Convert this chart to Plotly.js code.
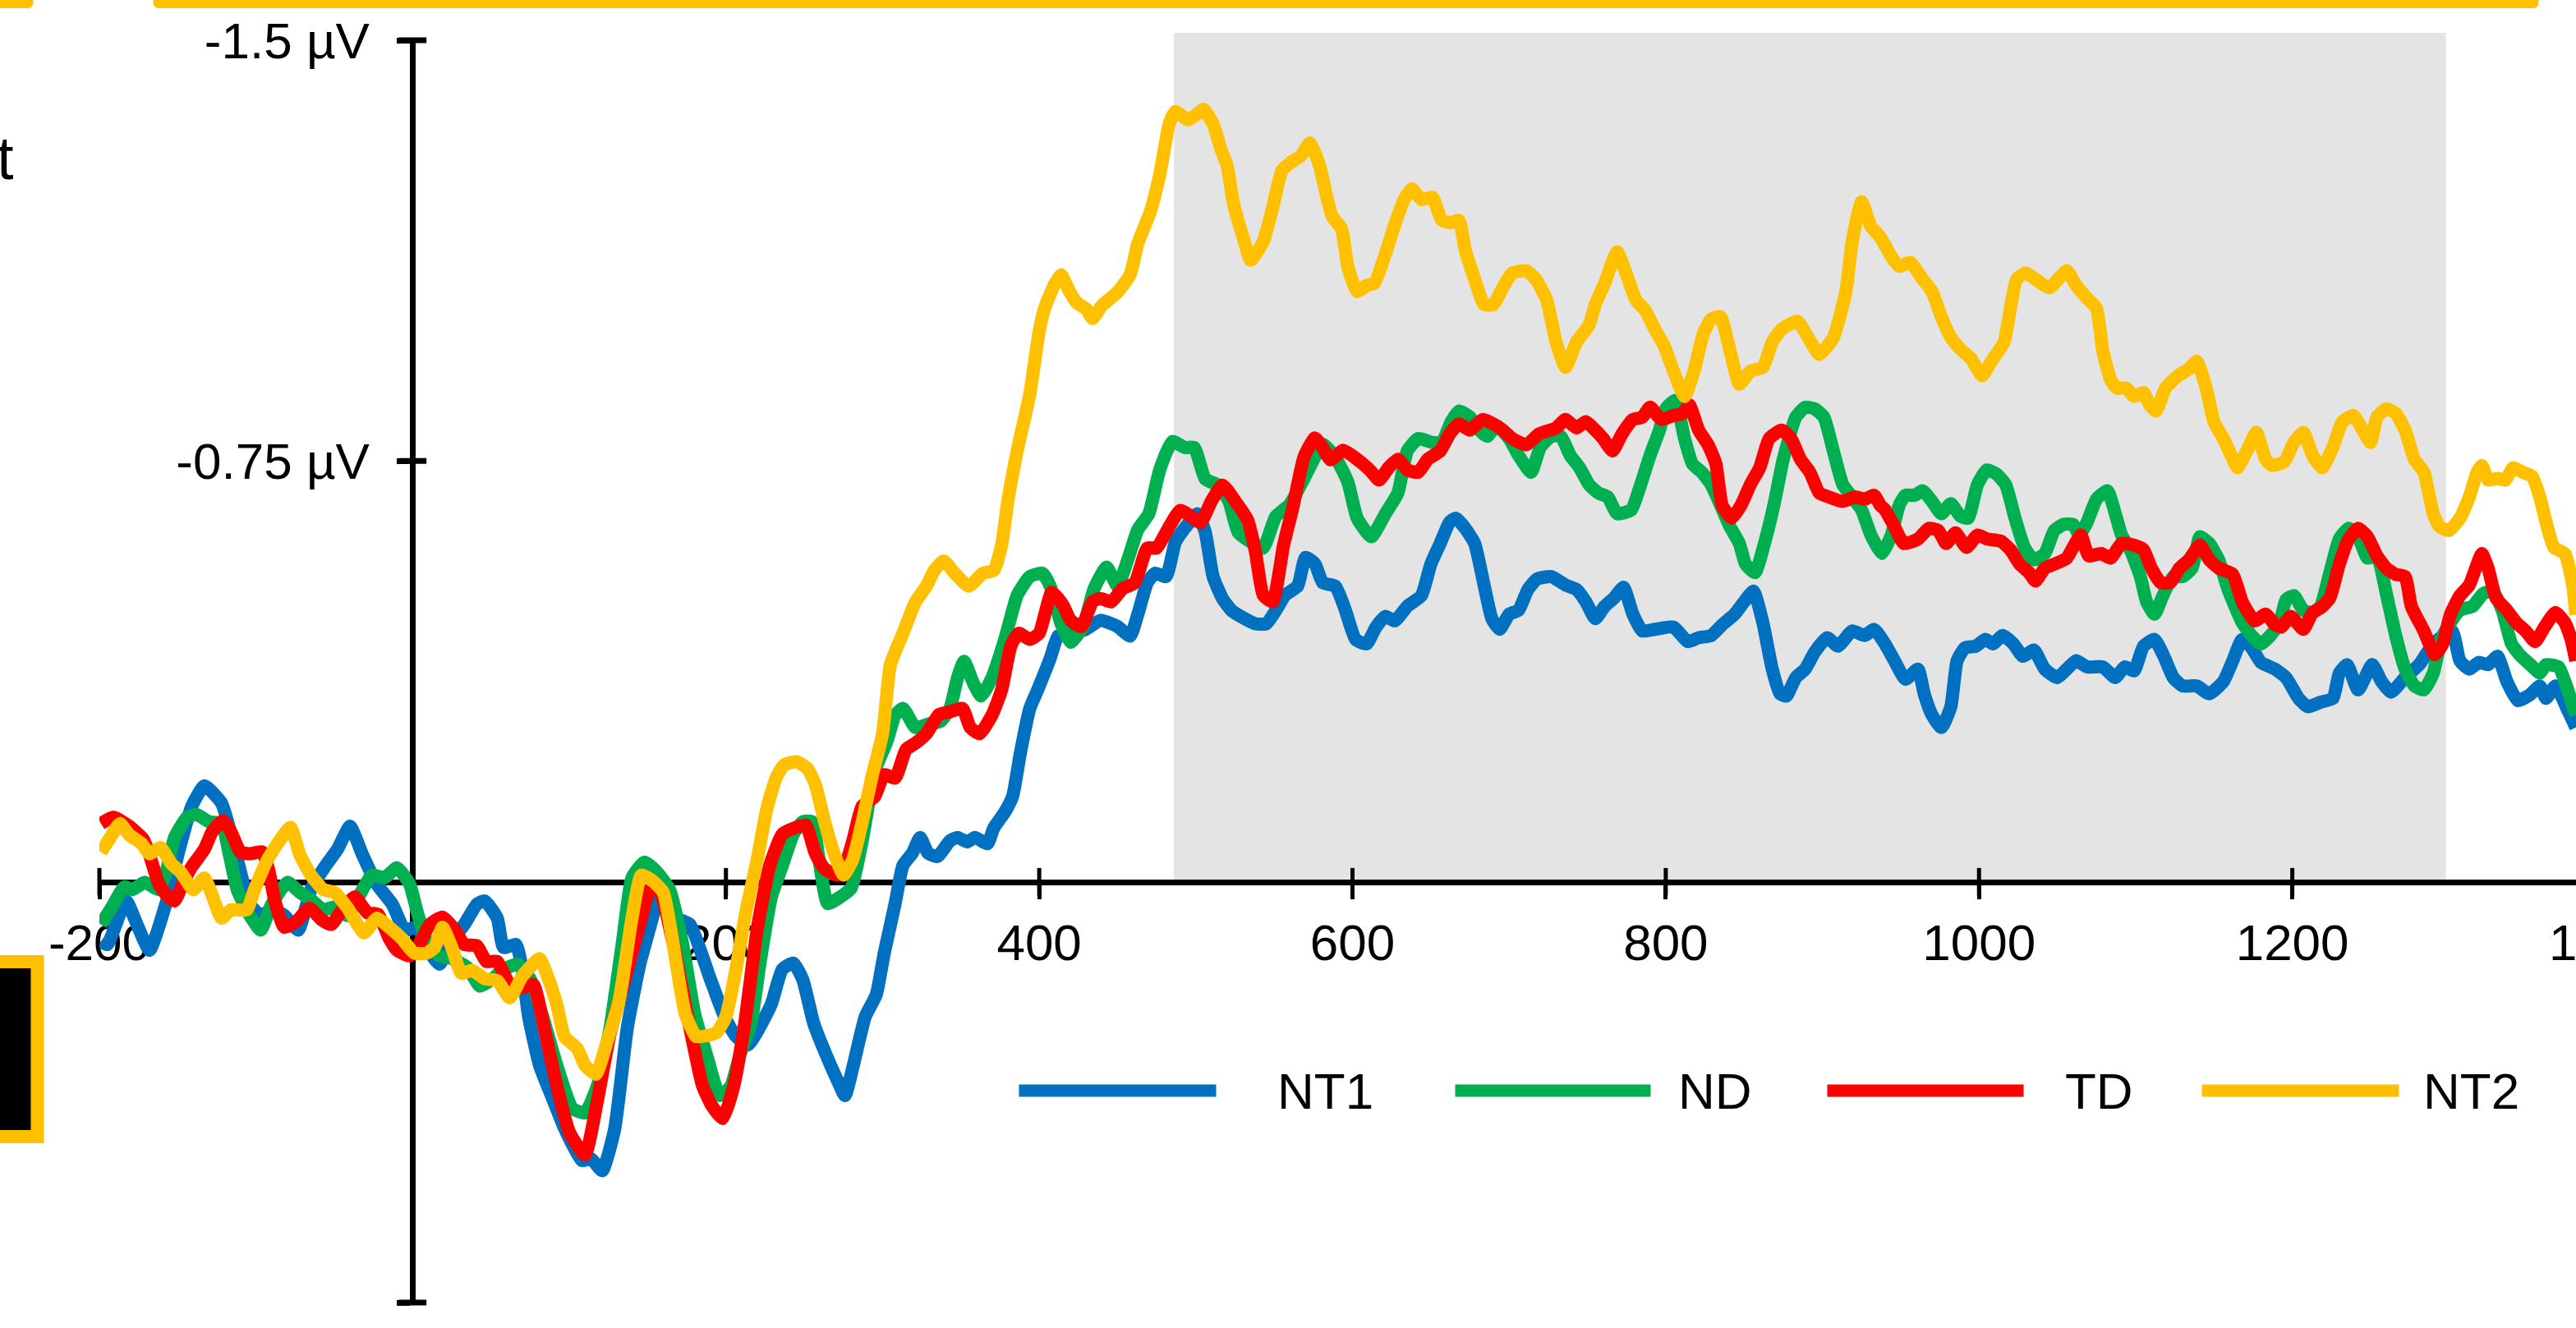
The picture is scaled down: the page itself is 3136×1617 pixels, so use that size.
<!DOCTYPE html>
<html>
<head>
<meta charset="utf-8">
<script src="https://cdn.plot.ly/plotly-3.0.1.min.js"></script>
<style>
html,body{margin:0;padding:0;overflow:hidden;background:#ffffff;}
#chart{width:3300px;height:1617px;}
</style>
</head>
<body>
<div id="chart"></div>
<script>
// ---------------- data ----------------
const seriesNames = ['NT1', 'ND', 'TD', 'NT2'];
const seriesColors = ['#0070C0', '#00B050', '#FF0000', '#FFC000'];

// [time (ms), amplitude (µV)]
const nt1 = [[-199,0.106],[-195,0.112],[-183,0.034],[-176,0.076],[-168,0.122],[-157,0.034],[-149,-0.058],[-141,-0.135],[-133,-0.171],[-122,-0.140],[-114,-0.063],[-109,-0.007],[-104,0.040],[-97,0.060],[-90,0.050],[-82,0.060],[-73,0.086],[-65,0.014],[-56,-0.027],[-48,-0.058],[-40,-0.099],[-32,-0.048],[-23,0.004],[-13,0.040],[-5,0.086],[3,0.081],[9,0.117],[17,0.147],[25,0.106],[33,0.076],[41,0.040],[46,0.034],[54,0.065],[58,0.117],[66,0.112],[70,0.158],[74,0.240],[81,0.327],[89,0.384],[97,0.440],[108,0.497],[114,0.494],[121,0.515],[129,0.440],[137,0.261],[145,0.147],[153,0.065],[158,0.014],[169,0.065],[177,0.076],[190,0.173],[199,0.240],[206,0.274],[214,0.291],[222,0.257],[229,0.218],[236,0.156],[243,0.145],[249,0.174],[256,0.252],[263,0.302],[271,0.353],[276,0.381],[281,0.331],[289,0.240],[296,0.201],[301,0.128],[308,0.039],[313,-0.029],[319,-0.051],[324,-0.079],[329,-0.051],[335,-0.045],[343,-0.073],[348,-0.079],[354,-0.071],[359,-0.079],[367,-0.068],[371,-0.096],[378,-0.124],[383,-0.152],[388,-0.230],[394,-0.309],[399,-0.342],[407,-0.398],[412,-0.438],[418,-0.443],[429,-0.449],[439,-0.466],[450,-0.455],[458,-0.438],[463,-0.477],[469,-0.533],[474,-0.550],[481,-0.544],[487,-0.606],[494,-0.634],[501,-0.656],[506,-0.623],[511,-0.544],[517,-0.505],[523,-0.483],[530,-0.471],[538,-0.460],[545,-0.460],[552,-0.488],[557,-0.511],[565,-0.527],[570,-0.578],[576,-0.567],[581,-0.533],[589,-0.527],[595,-0.488],[602,-0.432],[609,-0.424],[615,-0.454],[621,-0.473],[627,-0.465],[635,-0.491],[644,-0.510],[650,-0.566],[656,-0.603],[662,-0.641],[666,-0.648],[672,-0.630],[678,-0.603],[684,-0.529],[689,-0.469],[694,-0.450],[700,-0.477],[706,-0.484],[712,-0.521],[718,-0.540],[727,-0.544],[736,-0.529],[743,-0.521],[749,-0.499],[755,-0.469],[761,-0.491],[767,-0.506],[773,-0.525],[779,-0.477],[785,-0.447],[793,-0.450],[805,-0.454],[814,-0.428],[821,-0.435],[829,-0.439],[836,-0.458],[844,-0.477],[850,-0.499],[856,-0.518],[862,-0.462],[868,-0.379],[873,-0.335],[877,-0.331],[883,-0.364],[889,-0.379],[895,-0.409],[903,-0.435],[910,-0.420],[919,-0.447],[927,-0.439],[933,-0.450],[940,-0.424],[946,-0.394],[953,-0.361],[961,-0.379],[965,-0.335],[970,-0.297],[976,-0.275],[982,-0.312],[986,-0.394],[991,-0.417],[998,-0.420],[1004,-0.432],[1009,-0.424],[1015,-0.439],[1022,-0.424],[1028,-0.402],[1035,-0.413],[1042,-0.379],[1050,-0.364],[1056,-0.379],[1062,-0.394],[1069,-0.383],[1079,-0.383],[1087,-0.364],[1093,-0.383],[1099,-0.376],[1105,-0.420],[1112,-0.432],[1118,-0.402],[1124,-0.364],[1130,-0.349],[1139,-0.349],[1147,-0.335],[1156,-0.357],[1162,-0.394],[1168,-0.432],[1174,-0.417],[1180,-0.391],[1189,-0.379],[1196,-0.364],[1204,-0.327],[1210,-0.312],[1218,-0.320],[1226,-0.327],[1230,-0.372],[1235,-0.387],[1242,-0.342],[1251,-0.387],[1257,-0.357],[1263,-0.338],[1272,-0.364],[1281,-0.387],[1290,-0.424],[1302,-0.447],[1307,-0.394],[1313,-0.379],[1319,-0.391],[1325,-0.387],[1331,-0.402],[1337,-0.357],[1344,-0.323],[1352,-0.334],[1358,-0.349],[1362,-0.327],[1368,-0.349],[1376,-0.305],[1381,-0.275]];

const nd = [[-199,0.076],[-192,0.045],[-184,0.009],[-179,0.014],[-171,0.001],[-162,0.014],[-157,-0.022],[-152,-0.079],[-144,-0.115],[-138,-0.120],[-130,-0.107],[-122,-0.104],[-117,-0.048],[-112,0.014],[-104,0.060],[-97,0.086],[-90,0.040],[-80,0.001],[-72,0.019],[-64,0.034],[-57,0.050],[-50,0.045],[-42,0.060],[-34,0.024],[-26,-0.012],[-18,-0.007],[-10,-0.025],[-2,0.004],[3,0.055],[9,0.106],[17,0.132],[25,0.137],[35,0.153],[43,0.186],[51,0.173],[57,0.158],[67,0.147],[75,0.173],[83,0.240],[92,0.327],[102,0.404],[110,0.412],[118,0.363],[126,0.261],[134,0.106],[140,-0.007],[148,-0.035],[156,-0.017],[164,0.014],[172,0.106],[180,0.235],[188,0.312],[196,0.381],[203,0.365],[209,0.308],[216,0.252],[222,0.140],[229,0.027],[236,-0.029],[243,-0.085],[249,-0.107],[255,-0.107],[260,-0.029],[265,0.039],[273,0.027],[280,0.011],[287,-0.073],[295,-0.197],[303,-0.252],[308,-0.297],[313,-0.309],[321,-0.275],[329,-0.281],[337,-0.286],[343,-0.309],[348,-0.365],[352,-0.393],[358,-0.354],[363,-0.331],[370,-0.365],[378,-0.432],[386,-0.511],[394,-0.544],[402,-0.550],[407,-0.527],[414,-0.460],[420,-0.427],[428,-0.455],[435,-0.522],[443,-0.561],[450,-0.527],[457,-0.578],[463,-0.628],[470,-0.656],[477,-0.735],[485,-0.785],[493,-0.774],[499,-0.774],[506,-0.718],[514,-0.707],[521,-0.679],[527,-0.623],[535,-0.606],[543,-0.595],[551,-0.651],[560,-0.673],[568,-0.713],[576,-0.757],[581,-0.780],[589,-0.757],[597,-0.713],[603,-0.648],[612,-0.615],[621,-0.656],[629,-0.693],[635,-0.768],[642,-0.790],[651,-0.783],[657,-0.783],[663,-0.820],[668,-0.839],[675,-0.828],[681,-0.805],[686,-0.794],[692,-0.813],[700,-0.790],[706,-0.760],[714,-0.730],[720,-0.775],[727,-0.794],[733,-0.794],[739,-0.760],[745,-0.738],[751,-0.708],[757,-0.693],[763,-0.686],[769,-0.656],[778,-0.663],[784,-0.708],[790,-0.760],[796,-0.805],[800,-0.843],[806,-0.858],[812,-0.790],[817,-0.745],[823,-0.730],[829,-0.708],[835,-0.671],[841,-0.633],[847,-0.603],[851,-0.566],[857,-0.551],[863,-0.603],[869,-0.671],[875,-0.753],[883,-0.828],[889,-0.846],[895,-0.843],[901,-0.828],[907,-0.768],[913,-0.708],[919,-0.686],[925,-0.663],[931,-0.618],[938,-0.585],[944,-0.618],[949,-0.671],[953,-0.689],[959,-0.689],[964,-0.697],[970,-0.678],[976,-0.656],[982,-0.674],[988,-0.652],[993,-0.648],[999,-0.708],[1005,-0.734],[1011,-0.727],[1017,-0.708],[1023,-0.648],[1029,-0.596],[1035,-0.574],[1042,-0.585],[1048,-0.626],[1054,-0.637],[1060,-0.637],[1064,-0.618],[1069,-0.641],[1075,-0.682],[1082,-0.697],[1087,-0.656],[1091,-0.618],[1097,-0.589],[1103,-0.544],[1107,-0.499],[1112,-0.477],[1118,-0.514],[1124,-0.544],[1130,-0.544],[1136,-0.559],[1141,-0.615],[1147,-0.603],[1153,-0.574],[1159,-0.521],[1168,-0.462],[1174,-0.439],[1180,-0.424],[1186,-0.439],[1192,-0.462],[1196,-0.503],[1201,-0.510],[1207,-0.484],[1213,-0.480],[1218,-0.491],[1224,-0.551],[1230,-0.611],[1236,-0.630],[1242,-0.615],[1248,-0.577],[1254,-0.581],[1260,-0.514],[1266,-0.439],[1272,-0.379],[1278,-0.349],[1284,-0.342],[1290,-0.372],[1295,-0.432],[1301,-0.462],[1307,-0.484],[1315,-0.491],[1322,-0.514],[1328,-0.518],[1334,-0.484],[1340,-0.424],[1346,-0.402],[1352,-0.387],[1358,-0.372],[1362,-0.387],[1370,-0.383],[1375,-0.349],[1381,-0.297]];

const td = [[-199,-0.104],[-191,-0.115],[-181,-0.099],[-172,-0.076],[-168,-0.048],[-162,0.004],[-157,0.024],[-152,0.034],[-146,-0.002],[-141,-0.027],[-133,-0.058],[-128,-0.089],[-121,-0.109],[-116,-0.089],[-110,-0.053],[-104,-0.050],[-96,-0.053],[-92,-0.022],[-88,0.034],[-82,0.081],[-74,0.070],[-66,0.047],[-58,0.068],[-52,0.076],[-45,0.050],[-37,0.027],[-29,0.055],[-22,0.058],[-15,0.101],[-10,0.122],[-2,0.132],[3,0.117],[11,0.076],[19,0.063],[27,0.086],[33,0.112],[41,0.114],[47,0.142],[54,0.142],[62,0.183],[70,0.189],[77,0.183],[84,0.261],[92,0.363],[100,0.446],[110,0.487],[118,0.389],[126,0.271],[137,0.158],[145,0.076],[152,0.009],[158,0.019],[166,0.106],[177,0.261],[185,0.363],[191,0.399],[198,0.422],[205,0.364],[212,0.252],[220,0.084],[228,-0.029],[236,-0.085],[244,-0.096],[251,-0.101],[257,-0.051],[263,-0.023],[271,-0.012],[276,-0.029],[281,-0.073],[287,-0.135],[295,-0.152],[301,-0.191],[308,-0.185],[315,-0.236],[321,-0.247],[328,-0.264],[336,-0.298],[343,-0.303],[351,-0.309],[356,-0.275],[362,-0.264],[370,-0.298],[376,-0.342],[382,-0.421],[387,-0.443],[394,-0.432],[400,-0.443],[408,-0.516],[415,-0.494],[420,-0.466],[427,-0.455],[434,-0.499],[439,-0.505],[446,-0.499],[453,-0.522],[461,-0.533],[469,-0.595],[475,-0.595],[482,-0.628],[490,-0.662],[497,-0.651],[503,-0.640],[510,-0.679],[517,-0.707],[525,-0.679],[533,-0.645],[538,-0.589],[543,-0.511],[549,-0.499],[556,-0.600],[562,-0.668],[569,-0.757],[576,-0.791],[581,-0.774],[586,-0.752],[594,-0.769],[603,-0.753],[611,-0.734],[617,-0.716],[623,-0.738],[629,-0.753],[635,-0.734],[642,-0.730],[648,-0.753],[656,-0.768],[662,-0.798],[668,-0.816],[675,-0.805],[683,-0.824],[690,-0.816],[696,-0.805],[702,-0.790],[711,-0.779],[719,-0.798],[730,-0.809],[736,-0.824],[743,-0.809],[749,-0.820],[755,-0.805],[760,-0.790],[766,-0.768],[772,-0.798],[779,-0.824],[785,-0.828],[790,-0.846],[797,-0.824],[805,-0.831],[811,-0.835],[815,-0.850],[821,-0.805],[827,-0.779],[832,-0.745],[836,-0.671],[842,-0.648],[848,-0.671],[854,-0.708],[860,-0.738],[866,-0.790],[874,-0.805],[880,-0.790],[886,-0.753],[892,-0.730],[898,-0.693],[904,-0.686],[913,-0.678],[921,-0.686],[927,-0.682],[933,-0.689],[937,-0.671],[940,-0.663],[946,-0.633],[952,-0.603],[961,-0.611],[968,-0.630],[974,-0.626],[979,-0.603],[985,-0.622],[992,-0.596],[999,-0.618],[1005,-0.611],[1014,-0.607],[1020,-0.592],[1026,-0.566],[1032,-0.551],[1036,-0.536],[1042,-0.559],[1048,-0.566],[1056,-0.577],[1060,-0.596],[1065,-0.618],[1070,-0.581],[1078,-0.585],[1084,-0.577],[1091,-0.603],[1099,-0.600],[1105,-0.592],[1110,-0.559],[1116,-0.533],[1122,-0.533],[1128,-0.559],[1134,-0.574],[1141,-0.600],[1147,-0.574],[1153,-0.559],[1162,-0.548],[1168,-0.499],[1176,-0.465],[1183,-0.477],[1189,-0.458],[1193,-0.454],[1199,-0.473],[1207,-0.450],[1213,-0.480],[1218,-0.488],[1224,-0.506],[1230,-0.566],[1236,-0.611],[1242,-0.630],[1248,-0.615],[1254,-0.581],[1260,-0.559],[1266,-0.548],[1272,-0.544],[1276,-0.491],[1284,-0.447],[1291,-0.405],[1296,-0.424],[1301,-0.477],[1307,-0.510],[1313,-0.529],[1318,-0.566],[1321,-0.585],[1325,-0.559],[1330,-0.506],[1337,-0.484],[1343,-0.462],[1349,-0.447],[1355,-0.428],[1361,-0.454],[1368,-0.480],[1374,-0.462],[1378,-0.432],[1381,-0.394]];

const nt2 = [[-199,-0.053],[-193,-0.079],[-187,-0.104],[-181,-0.084],[-173,-0.068],[-168,-0.050],[-161,-0.061],[-154,-0.032],[-148,-0.017],[-140,0.014],[-133,-0.007],[-128,0.024],[-122,0.065],[-116,0.050],[-106,0.050],[-101,0.014],[-93,-0.038],[-85,-0.073],[-78,-0.097],[-72,-0.048],[-65,-0.012],[-57,0.014],[-50,0.019],[-42,0.045],[-31,0.091],[-23,0.065],[-15,0.081],[-7,0.101],[1,0.127],[9,0.127],[14,0.117],[19,0.081],[25,0.117],[31,0.163],[38,0.158],[46,0.173],[54,0.176],[62,0.207],[70,0.168],[81,0.137],[86,0.168],[92,0.219],[97,0.276],[105,0.297],[110,0.327],[117,0.343],[124,0.286],[132,0.209],[140,0.065],[146,-0.012],[153,-0.002],[160,0.019],[166,0.106],[174,0.235],[181,0.276],[188,0.274],[194,0.269],[200,0.240],[206,0.162],[213,0.050],[220,-0.040],[226,-0.129],[232,-0.185],[237,-0.208],[245,-0.214],[252,-0.202],[257,-0.174],[263,-0.107],[269,-0.051],[275,-0.012],[281,-0.040],[287,-0.107],[293,-0.185],[300,-0.264],[305,-0.387],[313,-0.443],[321,-0.499],[328,-0.527],[333,-0.555],[339,-0.572],[346,-0.550],[355,-0.527],[364,-0.550],[371,-0.555],[376,-0.600],[380,-0.679],[386,-0.769],[394,-0.869],[400,-0.982],[404,-1.027],[410,-1.066],[414,-1.082],[419,-1.054],[424,-1.032],[430,-1.021],[434,-1.004],[440,-1.027],[450,-1.051],[458,-1.082],[463,-1.138],[471,-1.195],[477,-1.261],[483,-1.351],[487,-1.373],[495,-1.358],[501,-1.369],[505,-1.377],[511,-1.351],[516,-1.306],[520,-1.276],[524,-1.209],[531,-1.141],[535,-1.108],[543,-1.141],[549,-1.201],[555,-1.268],[561,-1.283],[567,-1.294],[573,-1.317],[579,-1.276],[584,-1.216],[587,-1.186],[593,-1.164],[597,-1.097],[603,-1.052],[609,-1.063],[614,-1.067],[621,-1.119],[627,-1.171],[633,-1.216],[638,-1.235],[644,-1.216],[651,-1.220],[657,-1.179],[663,-1.175],[668,-1.179],[672,-1.126],[678,-1.074],[684,-1.029],[690,-1.029],[696,-1.059],[702,-1.085],[711,-1.089],[717,-1.074],[724,-1.037],[730,-0.962],[736,-0.917],[743,-0.962],[751,-0.992],[755,-1.029],[761,-1.067],[769,-1.123],[775,-1.082],[781,-1.037],[787,-1.018],[793,-0.985],[799,-0.955],[805,-0.910],[812,-0.865],[818,-0.910],[824,-0.977],[829,-1.003],[835,-1.007],[841,-0.947],[847,-0.887],[854,-0.910],[862,-0.917],[868,-0.962],[874,-0.985],[884,-0.999],[891,-0.970],[898,-0.940],[907,-0.970],[915,-1.052],[919,-1.141],[925,-1.212],[931,-1.168],[937,-1.149],[943,-1.119],[949,-1.097],[956,-1.104],[964,-1.074],[970,-1.052],[976,-1.007],[982,-0.970],[989,-0.947],[995,-0.932],[1002,-0.902],[1008,-0.928],[1016,-0.962],[1020,-1.022],[1024,-1.074],[1030,-1.085],[1036,-1.074],[1045,-1.059],[1056,-1.089],[1062,-1.063],[1069,-1.040],[1075,-1.022],[1079,-0.947],[1084,-0.895],[1088,-0.880],[1094,-0.880],[1099,-0.865],[1105,-0.872],[1109,-0.850],[1113,-0.839],[1119,-0.880],[1127,-0.902],[1134,-0.914],[1139,-0.928],[1145,-0.880],[1150,-0.820],[1156,-0.790],[1161,-0.760],[1165,-0.738],[1171,-0.768],[1177,-0.801],[1183,-0.753],[1187,-0.742],[1195,-0.749],[1201,-0.783],[1207,-0.801],[1213,-0.760],[1219,-0.738],[1226,-0.775],[1232,-0.820],[1239,-0.831],[1245,-0.805],[1250,-0.783],[1254,-0.828],[1260,-0.843],[1266,-0.835],[1272,-0.805],[1278,-0.753],[1284,-0.730],[1290,-0.656],[1294,-0.633],[1300,-0.626],[1307,-0.648],[1313,-0.686],[1318,-0.730],[1321,-0.742],[1325,-0.716],[1331,-0.719],[1336,-0.716],[1341,-0.738],[1347,-0.730],[1353,-0.723],[1358,-0.686],[1362,-0.641],[1367,-0.596],[1374,-0.585],[1379,-0.529],[1381,-0.476]];

const xTickVals = [-200, 200, 400, 600, 800, 1000, 1200, 1400];
const xTickText = ['-200', '200', '400', '600', '800', '1000', '1200', '1400'];
const yTickVals = [-1.5, -0.75, 0.75];
const yTickText = ['-1.5 µV', '-0.75 µV', '0.75 µV'];
const xRange = [-200, 1400];
const yRange = [0.75, -1.5];
const analysisWindow = [486, 1298];

// ---------------- layout constants (pixels) ----------------
const FONT = 'Liberation Sans, Arial, Helvetica, sans-serif';
const W = 3300, H = 1617;
const M = {l: 120.5, r: 127.5, t: 49, b: 31};
const plotH = H - M.t - M.b;
const xZeroFrac = (0 - xRange[0]) / (xRange[1] - xRange[0]);
const yZeroFrac = (0 - yRange[0]) / (yRange[1] - yRange[0]);
const yZeroPx = M.t + plotH * (1 - yZeroFrac);

// cross-shaped tick marks on the two axes (which cross at 0)
const traces = [];
traces.push({type: 'scatter', mode: 'markers', x: xTickVals, y: xTickVals.map(() => 0),
  marker: {symbol: 'line-ns', size: 24, color: '#000', line: {color: '#000', width: 5}},
  cliponaxis: false, showlegend: false, hoverinfo: 'skip'});
traces.push({type: 'scatter', mode: 'markers', x: yTickVals.map(() => 0), y: yTickVals,
  marker: {symbol: 'line-ew', size: 24, color: '#000', line: {color: '#000', width: 7}},
  cliponaxis: false, showlegend: false, hoverinfo: 'skip'});

const allSeries = [nt1, nd, td, nt2];
allSeries.forEach((s, i) => traces.push({
  type: 'scatter', mode: 'lines', name: seriesNames[i],
  x: s.map(p => p[0]), y: s.map(p => p[1]),
  line: {color: seriesColors[i], width: 16, shape: 'spline', smoothing: 0.5},
  showlegend: false, hoverinfo: 'skip'
}));

const tickFont = {family: FONT, size: 62, color: '#000'};

const shapes = [];
// shaded analysis window
shapes.push({type: 'rect', xref: 'x', x0: analysisWindow[0], x1: analysisWindow[1],
  yref: 'paper', ysizemode: 'pixel', yanchor: yZeroFrac, y0: 0, y1: yZeroPx - 40,
  fillcolor: '#E4E4E4', line: {width: 0}, layer: 'below'});
// cropped neighbouring panel frames (top yellow bar pieces, left boxed label)
function barPath(x0, x1, yb, ytop, r) {
  return `M${x0},${ytop} L${x0},${yb + r} Q${x0},${yb} ${x0 + r},${yb} L${x1 - r},${yb} Q${x1},${yb} ${x1},${yb + r} L${x1},${ytop} Z`;
}
shapes.push({type: 'path', xref: 'paper', xsizemode: 'pixel', xanchor: 0,
  yref: 'paper', ysizemode: 'pixel', yanchor: 1,
  path: barPath(-140, 40 - M.l, M.t - 10, M.t + 20, 7), fillcolor: '#FFC000', line: {width: 0}, layer: 'above'});
shapes.push({type: 'path', xref: 'paper', xsizemode: 'pixel', xanchor: 0,
  yref: 'paper', ysizemode: 'pixel', yanchor: 1,
  path: barPath(186 - M.l, 3090 - M.l, M.t - 10, M.t + 20, 7), fillcolor: '#FFC000', line: {width: 0}, layer: 'above'});
shapes.push({type: 'rect', xref: 'paper', xsizemode: 'pixel', xanchor: 0, x0: -150, x1: 45 - M.l,
  yref: 'paper', ysizemode: 'pixel', yanchor: 0, y0: (H - M.b) - 1384, y1: (H - M.b) - 1171,
  fillcolor: '#000000', line: {color: '#FFC000', width: 16}, layer: 'above'});

// custom legend (long line samples)
const legLineStart = [1240, 1771, 2224, 2680];
const legLineEnd = [1480, 2009, 2463, 2920];
const legTextLeft = [1552, 2040, 2511, 2947];
const legY = 1328;
const annotations = [];
seriesNames.forEach((n, i) => {
  shapes.push({type: 'line', xref: 'paper', xsizemode: 'pixel', xanchor: 0,
    x0: legLineStart[i] - M.l, x1: legLineEnd[i] - M.l,
    yref: 'paper', ysizemode: 'pixel', yanchor: 0,
    y0: (H - M.b) - legY, y1: (H - M.b) - legY,
    line: {color: seriesColors[i], width: 15}, layer: 'above'});
  annotations.push({xref: 'paper', x: 0, xshift: legTextLeft[i] - M.l, xanchor: 'left',
    yref: 'paper', y: 0, yshift: (H - M.b) - legY, yanchor: 'middle',
    text: n, showarrow: false, font: {family: FONT, size: 62, color: '#000'}});
});
// cropped text fragment at the top-left
annotations.push({xref: 'paper', x: 0, xshift: 18 - M.l, xanchor: 'right',
  yref: 'paper', y: 0, yshift: (H - M.b) - 192, yanchor: 'middle',
  text: 't', showarrow: false, font: {family: FONT, size: 74, color: '#000'}});

const layout = {
  width: W, height: H,
  margin: {l: M.l, r: M.r, t: M.t, b: M.b, autoexpand: false},
  paper_bgcolor: '#ffffff', plot_bgcolor: 'rgba(0,0,0,0)',
  showlegend: false,
  xaxis: {range: xRange, domain: [0, 1], anchor: 'free', position: yZeroFrac,
    showline: true, linewidth: 7, linecolor: '#000',
    ticks: 'outside', ticklen: 17, tickwidth: 5, tickcolor: '#000',
    tickmode: 'array', tickvals: xTickVals, ticktext: xTickText, tickfont: tickFont,
    showgrid: false, zeroline: false, layer: 'below traces', fixedrange: true},
  yaxis: {range: yRange, domain: [0, 1], anchor: 'free', position: xZeroFrac,
    showline: true, linewidth: 7, linecolor: '#000',
    ticks: 'outside', ticklen: 16, tickwidth: 7, tickcolor: '#000',
    tickmode: 'array', tickvals: yTickVals, ticktext: yTickText, tickfont: tickFont,
    ticklabelstandoff: 21,
    showgrid: false, zeroline: false, layer: 'below traces', fixedrange: true},
  shapes: shapes,
  annotations: annotations
};

Plotly.newPlot('chart', traces, layout, {staticPlot: true, displayModeBar: false});
</script>
</body>
</html>
